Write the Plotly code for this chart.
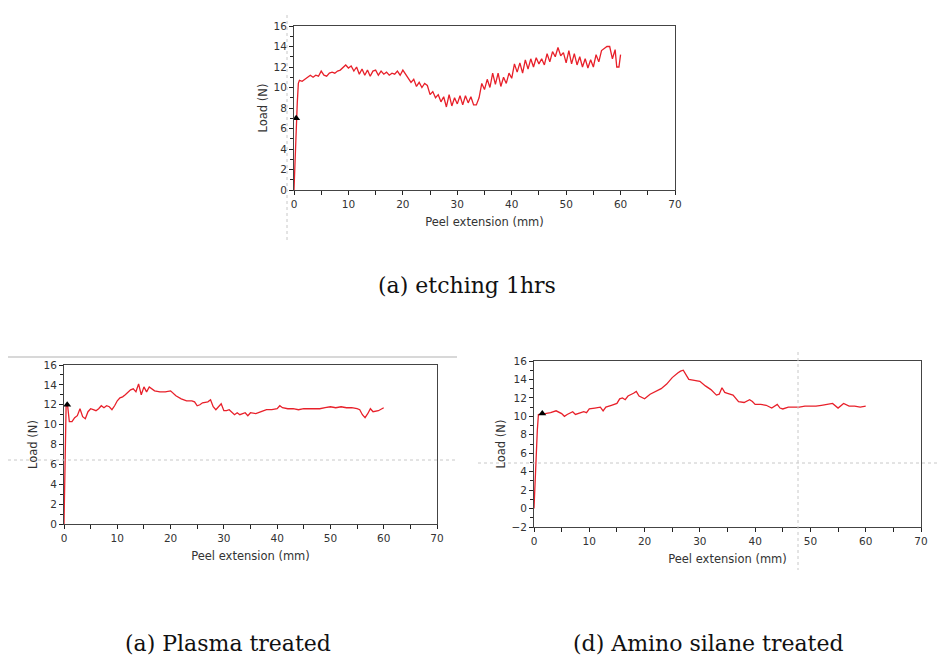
import plotly.graph_objects as go

# ---------------- data ----------------
etch_x = [0, 0.2, 0.4, 0.6, 0.8, 1, 1.5, 2, 2.5, 3, 3.5, 4, 4.5, 5, 5.5, 6, 6.5, 7, 7.5, 8, 8.5, 9, 9.5, 10,
          10.5, 11, 11.5, 12, 12.5, 13, 13.5, 14, 14.5, 15, 15.5, 16, 16.5, 17, 17.5, 18, 18.5, 19, 19.5, 20,
          20.5, 21, 21.5, 22, 22.5, 23, 23.5, 24, 24.5, 25, 25.5, 26, 26.5, 27, 27.5, 28, 28.5, 29, 29.5, 30,
          30.5, 31, 31.5, 32, 32.5, 33, 33.5, 34, 34.5, 35, 35.5, 36, 36.5, 37, 37.5, 38, 38.5, 39, 39.5, 40,
          40.5, 41, 41.5, 42, 42.5, 43, 43.5, 44, 44.5, 45, 45.5, 46, 46.5, 47, 47.5, 48, 48.5, 49, 49.5, 50,
          50.5, 51, 51.5, 52, 52.5, 53, 53.5, 54, 54.5, 55, 55.5, 56, 56.5, 57, 57.5, 58, 58.5, 59, 59.3, 59.7, 60]
etch_y = [0, 3.5, 7.0, 8.5, 10.4, 10.7, 10.6, 10.8, 11.0, 11.2, 11.0, 11.2, 11.1, 11.6, 11.2, 11.1, 11.4, 11.5, 11.4, 11.6, 11.7, 12.0, 12.2, 11.9,
          12.1, 11.6, 12.0, 11.3, 11.8, 11.2, 11.7, 11.1, 11.6, 11.7, 11.2, 11.6, 11.3, 11.5, 11.2, 11.4, 11.3, 11.6, 11.2, 11.7,
          11.3, 11.0, 10.5, 10.8, 10.1, 10.5, 10.0, 10.4, 10.2, 9.3, 9.6, 9.0, 9.3, 8.6, 9.1, 8.1, 9.3, 8.2, 9.0, 8.4,
          9.2, 8.3, 9.2, 8.5, 9.1, 8.3, 8.3, 9.0, 10.4, 9.8, 10.8, 10.0, 11.4, 10.3, 11.4, 10.1, 11.0, 10.4, 11.4, 10.9,
          12.3, 11.5, 12.4, 11.4, 12.7, 11.8, 12.8, 12.0, 12.9, 12.3, 12.8, 12.2, 13.3, 12.5, 13.5, 13.0, 13.9, 13.1, 13.4, 12.4,
          13.6, 12.3, 13.3, 12.2, 13.0, 12.0, 12.8, 11.9, 12.7, 12.0, 13.2, 12.5, 13.6, 13.8, 14.0, 14.0, 12.8, 13.7, 12.0, 12.0, 13.2]
etch_mark = (0.4, 7.0)

plasma_x = [0, 0.2, 0.4, 0.7, 1, 1.5, 2, 2.5, 3, 3.5, 4, 4.5, 5, 5.5, 6, 6.5, 7, 7.5, 8, 8.5, 9, 9.5, 10, 10.5,
            11, 11.5, 12, 12.5, 13, 13.5, 14, 14.5, 15, 15.5, 16, 17, 18, 19, 20, 20.5, 21, 22, 23, 24, 24.5, 25,
            25.5, 26, 27, 27.5, 28, 28.5, 29, 29.5, 30, 30.5, 31, 32, 32.5, 33, 34, 34.5, 35, 36, 37, 38, 39, 40,
            40.5, 41, 42, 43, 44, 45, 46, 47, 48, 49, 50, 51, 52, 53, 54, 55, 55.5, 56, 56.5, 57, 57.5, 58, 59, 60]
plasma_y = [0, 8.0, 12.0, 11.8, 10.3, 10.3, 10.7, 10.9, 11.6, 10.8, 10.6, 11.3, 11.6, 11.5, 11.4, 11.6, 11.9, 11.7, 11.9, 11.8, 11.5, 11.9, 12.4, 12.7,
            12.8, 13.0, 13.3, 13.5, 13.6, 13.3, 14.1, 13.0, 13.8, 13.3, 13.8, 13.4, 13.3, 13.3, 13.4, 13.1, 12.9, 12.6, 12.4, 12.4, 12.3, 11.9,
            12.0, 12.2, 12.3, 12.5, 11.8, 11.5, 11.8, 12.1, 11.4, 11.4, 11.5, 11.0, 11.2, 11.0, 11.2, 10.9, 11.2, 11.1, 11.3, 11.5, 11.5, 11.6,
            11.9, 11.7, 11.6, 11.6, 11.5, 11.6, 11.6, 11.6, 11.6, 11.7, 11.8, 11.7, 11.8, 11.7, 11.7, 11.6, 11.5, 11.0, 10.7, 11.1, 11.6, 11.3, 11.4, 11.7]
plasma_mark = (0.6, 12.0)

amino_x = [0, 0.3, 0.6, 0.8, 1.5, 2, 3, 4, 5, 5.5, 6, 7, 7.5, 8, 9, 9.5, 10, 11, 12, 12.5, 13, 14, 15, 15.5,
           16, 16.5, 17, 18, 18.5, 19, 20, 21, 22, 23, 24, 25, 26, 26.5, 27, 27.5, 28, 29, 30, 31, 32, 33, 33.5,
           34, 34.5, 35, 36, 37, 38, 39, 39.5, 40, 41, 42, 43, 44, 44.5, 45, 46, 47, 48, 49, 50, 51, 52, 53, 54,
           55, 56, 57, 58, 59, 60]
amino_y = [0, 5.0, 8.5, 10.2, 10.3, 10.3, 10.4, 10.6, 10.3, 10.0, 10.2, 10.5, 10.2, 10.3, 10.5, 10.4, 10.8, 10.9, 11.0, 10.6, 11.0, 11.2, 11.4, 11.9,
           12.0, 11.8, 12.2, 12.5, 12.7, 12.2, 11.9, 12.4, 12.7, 13.0, 13.5, 14.2, 14.7, 14.9, 15.0, 14.5, 14.0, 13.9, 13.8, 13.3, 12.9, 12.3, 12.4,
           13.1, 12.6, 12.5, 12.3, 11.6, 11.5, 11.8, 11.6, 11.3, 11.3, 11.2, 10.9, 11.3, 10.9, 10.8, 11.0, 11.0, 11.0, 11.1, 11.1, 11.1, 11.2, 11.3, 11.4,
           10.9, 11.4, 11.1, 11.1, 11.0, 11.1]
amino_mark = (1.5, 10.3)

captions = ["(a) etching 1hrs", "(a) Plasma treated", "(d) Amino silane treated"]
x_title = "Peel extension (mm)"
y_title = "Load (N)"

# ---------------- figure ----------------
W, H = 950, 659
OFF = 8  # page body margin in the browser
fig = go.Figure()

def px(x):
    return (x - OFF) / W

def py(y):
    return 1 - (y - OFF) / H

panels = [
    (etch_x, etch_y, etch_mark, "", (294, 675), (26, 190), [0, 16]),
    (plasma_x, plasma_y, plasma_mark, "2", (64, 437), (365, 524), [0, 16]),
    (amino_x, amino_y, amino_mark, "3", (534, 921), (361, 527), [-2, 16]),
]

tickfont = dict(family="DejaVu Sans, Verdana, sans-serif", size=10.5, color="#333")
titlefont = dict(family="DejaVu Sans, Verdana, sans-serif", size=11.5, color="#333")

for xd, yd, mk, ax, (x0, x1), (y0, y1), yr in panels:
    fig.add_trace(go.Scatter(x=xd, y=yd, mode="lines", line=dict(color="#e8202a", width=1.3),
                             xaxis="x" + ax, yaxis="y" + ax, showlegend=False, hoverinfo="skip"))
    fig.add_trace(go.Scatter(x=[mk[0]], y=[mk[1]], mode="markers",
                             marker=dict(symbol="triangle-up", size=7, color="black"),
                             xaxis="x" + ax, yaxis="y" + ax, showlegend=False, hoverinfo="skip"))
    xa = dict(domain=[px(x0), px(x1)], range=[0, 70], dtick=10, tick0=0, showgrid=False, zeroline=False,
              showline=True, linecolor="#444", linewidth=1, mirror=True,
              ticks="outside", ticklen=4, tickcolor="#222",
              minor=dict(dtick=5, ticks="outside", ticklen=4, tickcolor="#222"),
              tickfont=tickfont, title=dict(text=x_title, font=titlefont, standoff=9),
              anchor="y" + ax, fixedrange=True, automargin=False)
    ya = dict(domain=[py(y1), py(y0)], range=yr, dtick=2, tick0=0, showgrid=False, zeroline=False,
              showline=True, linecolor="#444", linewidth=1, mirror=True,
              ticks="outside", ticklen=4, tickcolor="#222",
              minor=dict(dtick=1, ticks="outside", ticklen=3, tickcolor="#222"),
              tickfont=tickfont, title=dict(text=y_title, font=titlefont, standoff=3),
              anchor="x" + ax, fixedrange=True, automargin=False)
    fig.layout["xaxis" + ax] = xa
    fig.layout["yaxis" + ax] = ya

# scan artefacts (dotted guide lines from the original screenshot)
dot = dict(color="#c8c8c8", width=1, dash="dot")
shapes = [
    dict(type="line", xref="paper", yref="paper", x0=px(287), x1=px(287), y0=py(15), y1=py(240), line=dot),
    dict(type="line", xref="paper", yref="paper", x0=px(OFF), x1=px(458), y0=py(460), y1=py(460), line=dot),
    dict(type="line", xref="paper", yref="paper", x0=px(OFF), x1=px(457), y0=py(357), y1=py(357),
         line=dict(color="#d8d8d8", width=2)),
    dict(type="line", xref="paper", yref="paper", x0=px(478), x1=px(940), y0=py(463), y1=py(463), line=dot),
    dict(type="line", xref="paper", yref="paper", x0=px(798), x1=px(798), y0=py(352), y1=py(570), line=dot),
]
fig.update_layout(shapes=shapes)

capfont = dict(family="DejaVu Serif, Liberation Serif, serif", size=22, color="#111")
cap_pos = [(467, 285), (228, 643), (708, 643)]
for txt, (cx, cy) in zip(captions, cap_pos):
    fig.add_annotation(text=txt, xref="paper", yref="paper", x=px(cx), y=py(cy),
                       showarrow=False, font=capfont, xanchor="center", yanchor="middle")

fig.update_layout(width=W, height=H, margin=dict(l=0, r=0, t=0, b=0),
                  paper_bgcolor="white", plot_bgcolor="white")

fig.write_html("out.html")
